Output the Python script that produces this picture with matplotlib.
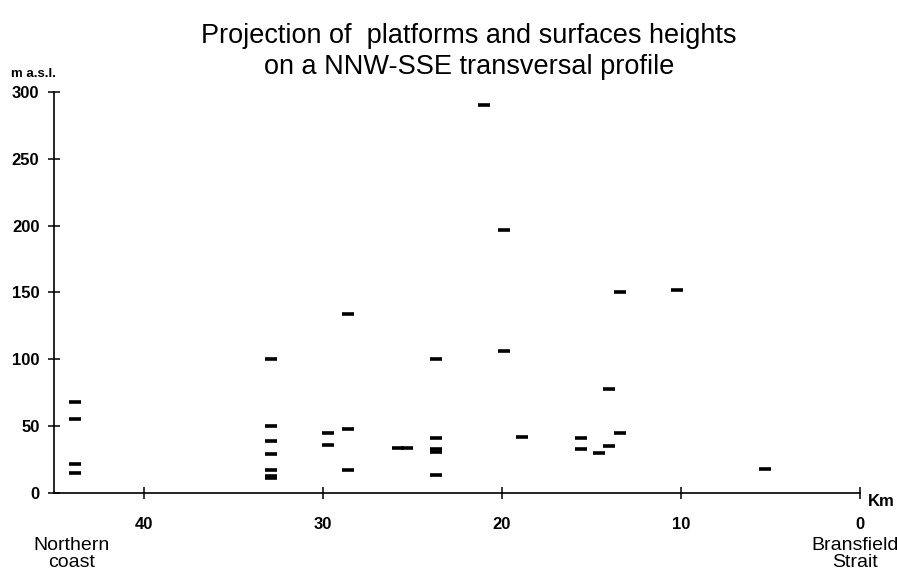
import numpy as np
import matplotlib
matplotlib.use("Agg")
import matplotlib.pyplot as plt

plt.rcParams['font.family'] = ['Liberation Sans', 'DejaVu Sans']

# distance from the Bransfield Strait (km) and height (m a.s.l.) of each platform
km = [43.8, 43.8, 43.8, 43.8,
      32.9, 32.9, 32.9, 32.9, 32.9, 32.9, 32.9,
      29.7, 29.7,
      28.6, 28.6, 28.6,
      25.8, 25.3,
      23.7, 23.7, 23.7, 23.7, 23.7,
      21.0, 19.9, 19.9, 18.9,
      15.6, 15.6, 14.6, 14.0, 14.0, 13.4, 13.4,
      10.2, 5.3]
height = [68, 55, 22, 15,
          100, 50, 39, 29, 17, 13, 11.5,
          45, 36,
          134, 48, 17,
          34, 34,
          100, 41, 33, 31, 13.5,
          290, 197, 106, 42,
          41, 33, 30, 35, 78, 150, 45,
          152, 18]

xticks = [40, 30, 20, 10, 0]
yticks = [0, 50, 100, 150, 200, 250, 300]

fig = plt.figure(figsize=(8.97, 5.77), dpi=100)
ax = fig.add_axes([0.0602, 0.1456, 0.8986, 0.695])

ax.plot(km, height, linestyle='none', marker='_', markersize=8.5,
        markeredgewidth=2.6, color='black')

ax.set_xlim(45, 0)
ax.set_ylim(0, 300)
ax.spines['top'].set_visible(False)
ax.spines['right'].set_visible(False)
ax.spines['left'].set_linewidth(1.2)
ax.spines['bottom'].set_linewidth(1.2)
ax.set_xticks(xticks)
ax.set_yticks(yticks)
ax.tick_params(axis='both', direction='inout', length=9, width=1.1,
               labelsize=12)
ax.tick_params(axis='x', pad=13)
ax.tick_params(axis='y', pad=6)
for lab in ax.get_xticklabels() + ax.get_yticklabels():
    lab.set_fontweight('bold')

fig.text(0.523, 0.961, "Projection of  platforms and surfaces heights\non a NNW-SSE transversal profile",
         ha='center', va='top', fontsize=19.5, linespacing=1.25)
fig.text(0.012, 0.862, "m a.s.l.", fontsize=9.5, fontweight='bold', ha='left', va='bottom')
fig.text(0.968, 0.13, "Km", fontsize=12, fontweight='bold', ha='left', va='center')
fig.text(0.080, 0.04, "Northern\ncoast", fontsize=14, ha='center', va='center',
         linespacing=1.0)
fig.text(0.953, 0.04, "Bransfield\nStrait", fontsize=14, ha='center', va='center',
         linespacing=1.0)

fig.savefig("out.png", dpi=100)
